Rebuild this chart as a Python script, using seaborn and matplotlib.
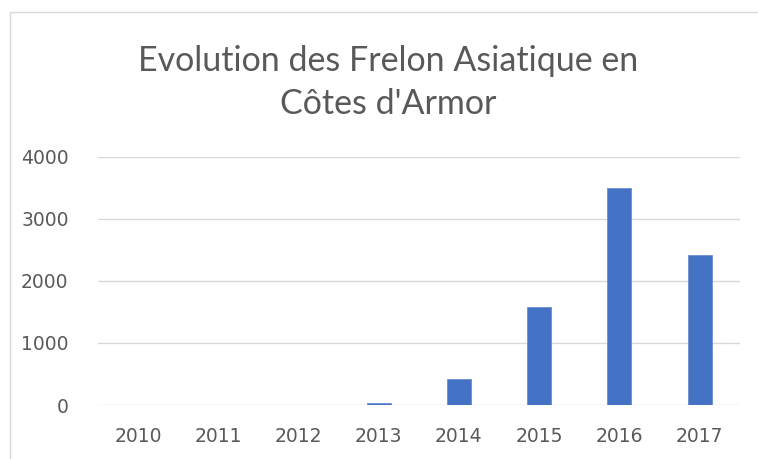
import seaborn as sns
import matplotlib.pyplot as plt
import matplotlib.patches as mpatches
import pandas as pd

# data
years = ['2010', '2011', '2012', '2013', '2014', '2015', '2016', '2017']
counts = [0, 0, 0, 30, 420, 1585, 3495, 2410]

df = pd.DataFrame({'year': years, 'count': counts})

sns.set_style('white')
plt.rcParams['font.family'] = ['Lato', 'DejaVu Sans']

fig = plt.figure(figsize=(7.58, 4.59), dpi=100)
ax = fig.add_axes([0.129, 0.1176, 0.847, 0.541])

sns.barplot(data=df, x='year', y='count', color='#4472C4', width=0.3,
            saturation=1, edgecolor='#6d8fd0', linewidth=0.6, ax=ax)

ax.set_xlim(-0.5, 7.5)
ax.set_ylim(0, 4000)
ax.set_yticks([0, 1000, 2000, 3000, 4000])
ax.yaxis.grid(True, color='#d9d9d9', linewidth=1)
ax.set_axisbelow(True)
for s in ax.spines.values():
    s.set_visible(False)
ax.set_xlabel('')
ax.set_ylabel('')
ax.tick_params(axis='both', length=0, labelsize=13.5, labelcolor='#595959')
ax.tick_params(axis='x', pad=16)
ax.tick_params(axis='y', pad=21)
for lab in ax.get_xticklabels() + ax.get_yticklabels():
    lab.set_family(['DejaVu Sans'])

fig.text(0.5125, 0.820, "Evolution des Frelon Asiatique en\nCôtes d'Armor",
         ha='center', va='center', fontsize=24.5, color='#595959',
         linespacing=1.42)

# chart frame
fig.patches.append(mpatches.Rectangle((10 / 758, -0.05), 1.0, 0.05 + 1 - 12 / 459,
                                      transform=fig.transFigure, fill=False,
                                      edgecolor='#d9d9d9', linewidth=1))

fig.savefig('out.png', dpi=100)
